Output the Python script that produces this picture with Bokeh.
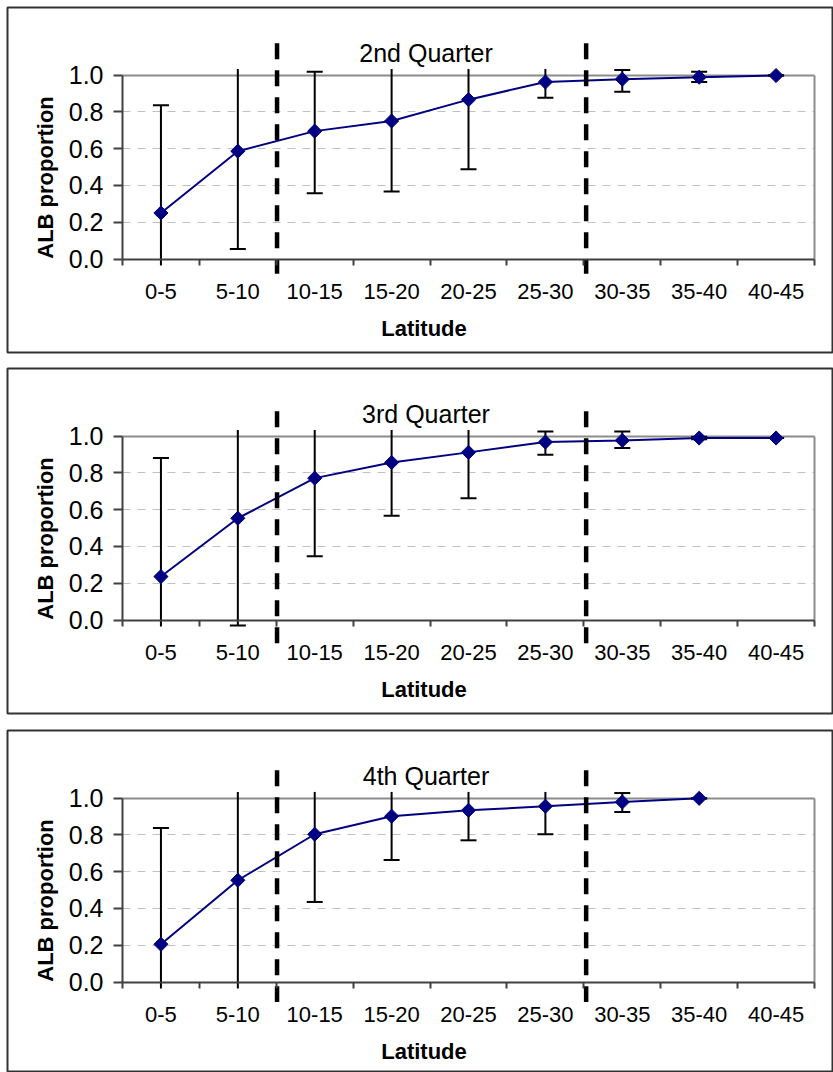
import numpy as np
from bokeh.plotting import figure
from bokeh.models import Range1d, FixedTicker, Grid
from bokeh.layouts import column
from bokeh.core.properties import value
from bokeh.embed import file_html
from bokeh.resources import INLINE

# ---------------- data ----------------
categories = ["0-5", "5-10", "10-15", "15-20", "20-25", "25-30", "30-35", "35-40", "40-45"]
y_ticks = [0.0, 0.2, 0.4, 0.6, 0.8, 1.0]
y_tick_labels = ["0.0", "0.2", "0.4", "0.6", "0.8", "1.0"]
grid_ticks = [0.2, 0.4, 0.6, 0.8]
titles = ["2nd Quarter", "3rd Quarter", "4th Quarter"]
x_label = "Latitude"
y_label = "ALB proportion"

nan = float("nan")
q2_prop = [0.250, 0.586, 0.695, 0.750, 0.866, 0.962, 0.977, 0.988, 0.997]
q2_lo   = [-0.34, 0.054, 0.358, 0.367, 0.488, 0.877, 0.909, 0.962, 0.997]
q2_hi   = [0.836, 1.120, 1.018, 1.130, 1.240, 1.050, 1.027, 1.018, 0.997]

q3_prop = [0.236, 0.553, 0.771, 0.856, 0.911, 0.967, 0.976, 0.989, 0.989]
q3_lo   = [-0.41, -0.030, 0.347, 0.566, 0.662, 0.898, 0.935, 0.982, 0.989]
q3_hi   = [0.880, 1.130, 1.190, 1.146, 1.160, 1.024, 1.024, 0.996, 0.989]

q4_prop = [0.205, 0.553, 0.803, 0.901, 0.933, 0.955, 0.978, 0.998, nan]
q4_lo   = [-0.43, -0.050, 0.435, 0.663, 0.770, 0.803, 0.924, 0.998, nan]
q4_hi   = [0.837, 1.150, 1.170, 1.140, 1.100, 1.107, 1.027, 0.998, nan]

# dashed divider lines (x position in category units) and their vertical extent per panel
dividers = [2.01, 6.03]
divider_top = [1.173, 1.134, 1.151]
divider_bottom = [-0.080, -0.127, -0.109]

# ---------------- layout constants ----------------
X0_PX = 122.0        # pixel of x=0 (category axis start)
UNIT_X = 76.89       # pixels per category
UNIT_Y = 184.0       # pixels per 1.0 proportion
TOP_TO_ZERO = 251.5  # box top -> y=0.0 line
CLIP_LO, CLIP_HI = -0.035, 1.033

FONT = "Liberation Sans"
AXIS_COLOR = "#404040"


def xd(px):
    return (px - X0_PX) / UNIT_X


def yd(local_px):
    # local_px measured from box top
    return (TOP_TO_ZERO - local_px) / UNIT_Y


def make_panel(idx, prop, lo, hi, top_border, frame_h, bottom_border):
    prop = np.array(prop, dtype=float)
    lo = np.array(lo, dtype=float)
    hi = np.array(hi, dtype=float)
    xs = np.arange(len(categories)) + 0.5
    n = len(categories)

    p = figure(
        width=833, height=top_border + frame_h + bottom_border,
        x_range=Range1d(xd(7), xd(832)),
        y_range=Range1d(yd(frame_h), yd(0)),
        toolbar_location=None, output_backend="svg",
        min_border_left=7, min_border_right=1,
        min_border_top=top_border, min_border_bottom=bottom_border,
        outline_line_color="#333333", outline_line_width=2,
        background_fill_color="white", border_fill_color="white",
    )

    # ---- axes at fixed locations ----
    xa = p.xaxis[0]
    xa.fixed_location = 0
    xa.bounds = (0, n)
    xa.ticker = FixedTicker(ticks=list(xs), minor_ticks=list(range(n + 1)))
    xa.major_label_overrides = {float(x): c for x, c in zip(xs, categories)}
    xa.major_tick_line_color = None
    xa.major_tick_out = 0
    xa.major_tick_in = 0
    xa.minor_tick_out = 6
    xa.minor_tick_in = 0
    xa.minor_tick_line_color = AXIS_COLOR
    xa.minor_tick_line_width = 2
    xa.axis_line_color = AXIS_COLOR
    xa.axis_line_width = 2
    xa.major_label_text_font = FONT
    xa.major_label_text_font_size = "22px"
    xa.major_label_text_color = "black"
    xa.major_label_standoff = 19

    ya = p.yaxis[0]
    ya.fixed_location = 0
    ya.bounds = (0, 1)
    ya.ticker = FixedTicker(ticks=y_ticks, minor_ticks=[])
    ya.major_label_overrides = dict(zip(y_ticks, y_tick_labels))
    ya.major_tick_out = 9
    ya.major_tick_in = 0
    ya.major_tick_line_color = AXIS_COLOR
    ya.major_tick_line_width = 2
    ya.minor_tick_line_color = None
    ya.axis_line_color = AXIS_COLOR
    ya.axis_line_width = 2
    ya.major_label_text_font = FONT
    ya.major_label_text_font_size = "25px"
    ya.major_label_text_color = "black"
    ya.major_label_standoff = 10

    # ---- grids ----
    p.xgrid.visible = False
    p.ygrid.ticker = FixedTicker(ticks=grid_ticks)
    p.ygrid.cross_bounds = (0, n)
    p.ygrid.grid_line_color = "#c0c0c0"
    p.ygrid.grid_line_dash = "8 7"
    p.ygrid.grid_line_width = 1
    # plot-area border (top and right, gray)
    p.add_layout(Grid(dimension=1, ticker=FixedTicker(ticks=[1.0]), cross_bounds=(0, n),
                      grid_line_color="#8c8c8c", grid_line_width=2))
    p.add_layout(Grid(dimension=0, ticker=FixedTicker(ticks=[n]), cross_bounds=(0, 1),
                      grid_line_color="#8c8c8c", grid_line_width=2))

    # ---- series line ----
    p.line(xs, prop, line_color="#000080", line_width=2)

    # ---- error bars (clipped like the original) ----
    lo_c = np.clip(lo, CLIP_LO, CLIP_HI)
    hi_c = np.clip(hi, CLIP_LO, CLIP_HI)
    p.segment(x0=xs, y0=lo_c, x1=xs, y1=hi_c, line_color="black", line_width=2)
    cap_lo = (lo >= CLIP_LO)
    cap_hi = (hi <= CLIP_HI)
    p.scatter(xs[cap_lo], lo[cap_lo], marker="dash", size=16, line_color="black", line_width=2)
    p.scatter(xs[cap_hi], hi[cap_hi], marker="dash", size=16, line_color="black", line_width=2)

    # ---- markers ----
    p.scatter(xs, prop, marker="square", angle=np.pi / 4, size=10,
              fill_color="#000080", line_color="#000080", line_width=1)

    # ---- dashed dividers ----
    p.segment(x0=dividers, y0=[divider_top[idx]] * len(dividers),
              x1=dividers, y1=[divider_bottom[idx]] * len(dividers),
              line_color="black", line_width=4.5, line_dash="16 11", line_cap="butt")

    # ---- texts ----
    p.text(x=[xd(425.5)], y=[yd(45)], text=[titles[idx]],
           text_font=value(FONT), text_font_size="25px", text_color="black",
           text_align="center", text_baseline="alphabetic")
    p.text(x=[xd(423.5)], y=[yd(320.5)], text=[x_label],
           text_font=value(FONT), text_font_size="22px", text_font_style="bold",
           text_color="black", text_align="center", text_baseline="alphabetic")
    p.text(x=[xd(45)], y=[yd(170)], text=[y_label], angle=np.pi / 2,
           text_font=value(FONT), text_font_size="22px", text_font_style="bold",
           text_color="black", text_align="center", text_baseline="alphabetic")
    return p


p1 = make_panel(0, q2_prop, q2_lo, q2_hi, 7, 345, 8)
p2 = make_panel(1, q3_prop, q3_lo, q3_hi, 8, 345, 7)
p3 = make_panel(2, q4_prop, q4_lo, q4_hi, 10, 342, 0)

layout = column(p1, p2, p3, spacing=0)
open("out.html", "w").write(file_html(layout, INLINE))
